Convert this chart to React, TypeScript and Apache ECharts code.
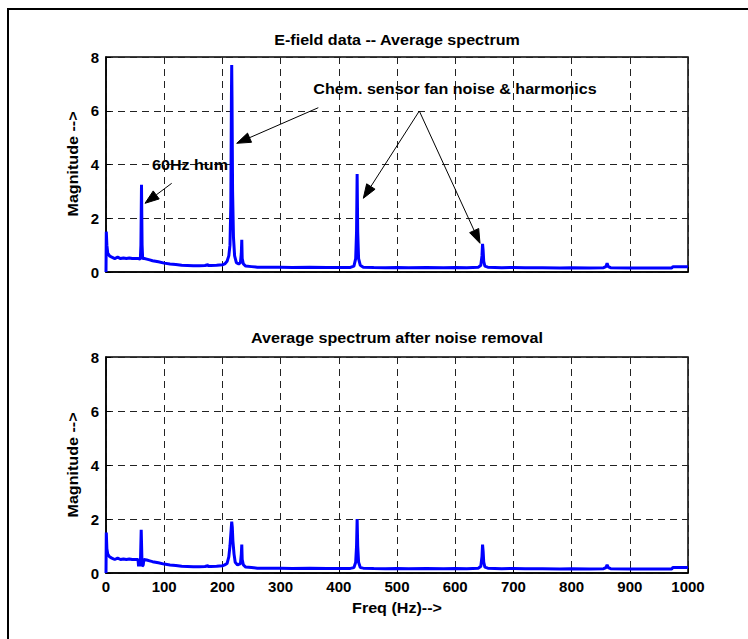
import React, { useEffect, useRef } from "react";
import * as echarts from "echarts";

// ---- Data ----
const xTicks = [0, 100, 200, 300, 400, 500, 600, 700, 800, 900, 1000];
const yTicks = [0, 2, 4, 6, 8];

const topFreq = [0, 0.5, 1.5, 3, 6, 10, 15, 20, 25, 30, 35, 40, 45, 50, 55, 59, 60, 61, 62, 63, 66, 70, 75, 80, 90, 100, 110, 120, 130, 140, 150, 160, 170, 175, 176, 180, 190, 200, 204, 208, 211, 213, 214.5, 215.5, 216, 216.5, 217.5, 219, 221, 224, 228, 231, 232.5, 233.3, 234, 236, 240, 250, 260, 280, 300, 320, 350, 380, 400, 420, 426, 429, 430.5, 431.5, 432.5, 434, 437, 442, 460, 480, 500, 520, 550, 580, 600, 620, 640, 644, 646, 647, 648, 649, 651, 656, 680, 700, 720, 750, 780, 800, 830, 855, 859, 861, 863, 867, 900, 930, 960, 972, 974, 1000];
const topMag = [0, 1.5, 1.0, 0.7, 0.6, 0.55, 0.5, 0.55, 0.5, 0.52, 0.5, 0.52, 0.5, 0.5, 0.5, 0.48, 1.0, 3.25, 1.0, 0.5, 0.5, 0.48, 0.45, 0.42, 0.38, 0.33, 0.3, 0.28, 0.25, 0.24, 0.23, 0.23, 0.24, 0.27, 0.24, 0.24, 0.25, 0.27, 0.3, 0.4, 0.6, 1.0, 2.5, 6.5, 7.7, 6.5, 3.0, 1.3, 0.6, 0.35, 0.3, 0.35, 0.7, 1.2, 0.5, 0.3, 0.22, 0.2, 0.18, 0.18, 0.18, 0.17, 0.18, 0.17, 0.17, 0.17, 0.22, 0.5, 1.5, 3.65, 1.5, 0.5, 0.25, 0.18, 0.17, 0.16, 0.17, 0.16, 0.17, 0.16, 0.17, 0.16, 0.18, 0.25, 0.6, 1.05, 0.8, 0.4, 0.22, 0.18, 0.16, 0.17, 0.16, 0.16, 0.15, 0.16, 0.15, 0.16, 0.2, 0.33, 0.2, 0.16, 0.15, 0.15, 0.15, 0.15, 0.2, 0.2];

const botFreq = [0, 0.5, 1.5, 3, 6, 10, 15, 20, 25, 30, 35, 40, 45, 50, 55, 56, 58, 59, 60.5, 61.5, 62, 64, 65, 70, 75, 80, 90, 100, 110, 120, 130, 140, 150, 160, 170, 175, 176, 180, 190, 200, 204, 208, 211, 213, 215, 216, 217, 218, 220, 222, 226, 231, 232.5, 233.3, 234, 236, 240, 250, 260, 280, 300, 320, 350, 380, 400, 420, 426, 429, 430.5, 431.5, 432.5, 434, 437, 442, 460, 480, 500, 520, 550, 580, 600, 620, 640, 644, 646, 647, 648, 649, 651, 656, 680, 700, 720, 750, 780, 800, 830, 855, 859, 861, 863, 867, 900, 930, 960, 972, 974, 1000];
const botMag = [0, 1.5, 0.9, 0.7, 0.6, 0.55, 0.5, 0.55, 0.5, 0.52, 0.5, 0.52, 0.5, 0.5, 0.5, 0.25, 0.45, 0.25, 1.6, 1.6, 0.25, 0.3, 0.5, 0.48, 0.45, 0.42, 0.38, 0.33, 0.3, 0.28, 0.25, 0.24, 0.23, 0.23, 0.24, 0.27, 0.24, 0.24, 0.25, 0.27, 0.3, 0.35, 0.6, 1.0, 1.6, 1.9, 1.7, 1.2, 0.7, 0.4, 0.3, 0.35, 0.7, 1.05, 0.5, 0.3, 0.22, 0.2, 0.18, 0.18, 0.18, 0.17, 0.18, 0.17, 0.17, 0.17, 0.2, 0.4, 1.0, 2.0, 1.0, 0.4, 0.2, 0.18, 0.17, 0.16, 0.17, 0.16, 0.17, 0.16, 0.17, 0.16, 0.18, 0.25, 0.6, 1.05, 0.8, 0.4, 0.22, 0.18, 0.16, 0.17, 0.16, 0.16, 0.15, 0.16, 0.15, 0.16, 0.2, 0.3, 0.2, 0.16, 0.15, 0.15, 0.15, 0.15, 0.2, 0.2];

const topTitle = "E-field data -- Average spectrum";
const botTitle = "Average spectrum after noise removal";
const yName = "Magnitude -->";
const xName = "Freq (Hz)-->";
const humLabel = "60Hz hum";
const fanLabel = "Chem. sensor fan noise & harmonics";

const FONT = '"Liberation Sans", Arial, sans-serif';

function txt(text: string, x: number, y: number, opts: any = {}) {
  return {
    type: "text",
    x,
    y,
    rotation: opts.rotation || 0,
    scaleX: opts.scaleX || 1.15,
    z: 100,
    style: {
      text,
      fill: "#000",
      fontSize: opts.fontSize || 14,
      fontWeight: "bold",
      fontFamily: FONT,
      align: opts.align || "center",
      verticalAlign: "middle",
    },
  };
}

function arrow(x1: number, y1: number, x2: number, y2: number) {
  const len = 14;
  const w = 5;
  const dx = x2 - x1;
  const dy = y2 - y1;
  const d = Math.sqrt(dx * dx + dy * dy);
  const ux = dx / d;
  const uy = dy / d;
  const bx = x2 - ux * len;
  const by = y2 - uy * len;
  const px = -uy;
  const py = ux;
  return [
    {
      type: "line",
      z: 100,
      shape: { x1, y1, x2: bx, y2: by },
      style: { stroke: "#000", lineWidth: 1 },
    },
    {
      type: "polygon",
      z: 100,
      shape: {
        points: [
          [x2, y2],
          [bx + px * w, by + py * w],
          [bx - px * w, by - py * w],
        ],
      },
      style: { fill: "#000", stroke: "#000", lineWidth: 1 },
    },
  ];
}

function makeXAxis(gridIndex: number, showLabels: boolean) {
  return {
    type: "value",
    gridIndex,
    min: 0,
    max: 1000,
    interval: 100,
    axisLine: { show: true, onZero: false, lineStyle: { color: "#000", width: 1.5 } },
    axisTick: { show: true, inside: true, length: 5, lineStyle: { color: "#000" } },
    axisLabel: {
      show: showLabels,
      color: "#000",
      fontSize: 15,
      fontWeight: "bold",
      fontFamily: FONT,
      margin: 6,
      formatter: (v: number) => (xTicks.includes(v) ? String(v) : ""),
    },
    splitLine: { show: true, lineStyle: { color: "#222", type: [7, 5], width: 1 } },
  };
}

function makeYAxis(gridIndex: number) {
  return {
    type: "value",
    gridIndex,
    min: 0,
    max: 8,
    interval: 2,
    axisLine: { show: true, onZero: false, lineStyle: { color: "#000", width: 1.5 } },
    axisTick: { show: true, inside: true, length: 5, lineStyle: { color: "#000" } },
    axisLabel: {
      show: true,
      color: "#000",
      fontSize: 15,
      fontWeight: "bold",
      fontFamily: FONT,
      margin: 7,
      formatter: (v: number) => (yTicks.includes(v) ? String(v) : ""),
    },
    splitLine: { show: true, lineStyle: { color: "#222", type: [7, 5], width: 1 } },
  };
}

export default function App() {
  const ref = useRef<HTMLDivElement>(null);
  useEffect(() => {
    if (!ref.current) return;
    const chart = echarts.init(ref.current, null, { renderer: "svg" });
    const topData = topFreq.map((f, i) => [f, topMag[i]]);
    const botData = botFreq.map((f, i) => [f, botMag[i]]);
    chart.setOption({
      animation: false,
      backgroundColor: "#fff",
      grid: [
        { left: 106, top: 57, width: 582, height: 215, show: true, borderColor: "#000", borderWidth: 1.5, backgroundColor: "#fff" },
        { left: 106, top: 357, width: 582, height: 216, show: true, borderColor: "#000", borderWidth: 1.5, backgroundColor: "#fff" },
      ],
      xAxis: [makeXAxis(0, false), makeXAxis(1, true)],
      yAxis: [makeYAxis(0), makeYAxis(1)],
      series: [
        {
          type: "line",
          xAxisIndex: 0,
          yAxisIndex: 0,
          data: topData,
          showSymbol: false,
          lineStyle: { color: "#0000ff", width: 3 },
          itemStyle: { color: "#0000ff" },
        },
        {
          type: "line",
          xAxisIndex: 1,
          yAxisIndex: 1,
          data: botData,
          showSymbol: false,
          lineStyle: { color: "#0000ff", width: 3 },
          itemStyle: { color: "#0000ff" },
        },
      ],
      graphic: [
        {
          type: "polyline",
          shape: { points: [[8, 639], [8, 9], [748, 9]] },
          style: { stroke: "#000", lineWidth: 2, fill: null },
        },
        txt(topTitle, 397, 40),
        txt(botTitle, 397, 338),
        txt(xName, 397, 608),
        txt(yName, 73, 164, { rotation: Math.PI / 2 }),
        txt(yName, 73, 465, { rotation: Math.PI / 2 }),
        txt(humLabel, 190, 165),
        txt(fanLabel, 455, 89),
        ...arrow(171.7, 183.3, 145, 203.3),
        ...arrow(318.3, 107.7, 236.7, 143.3),
        ...arrow(419.3, 111, 363.3, 198.3),
        ...arrow(419.3, 111, 480, 243.3),
      ],
    });
    return () => chart.dispose();
  }, []);
  return (
    <div
      ref={ref}
      style={{ position: "absolute", left: 0, top: 0, width: 748, height: 639, background: "#fff" }}
    />
  );
}
